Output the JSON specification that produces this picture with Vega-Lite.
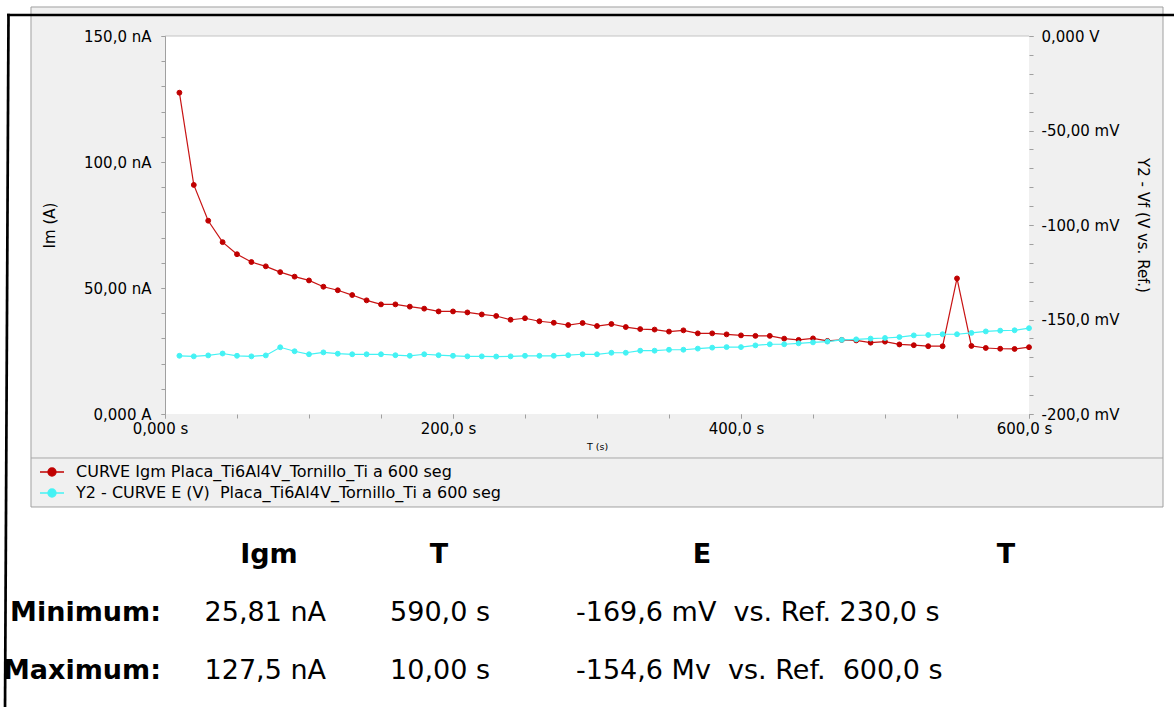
{
  "$schema": "https://vega.github.io/schema/vega-lite/v6.json",
  "width": 864,
  "height": 378,
  "autosize": "none",
  "padding": {"left": 165, "top": 36, "right": 145, "bottom": 293},
  "background": "#f0f0f0",
  "config": {
    "view": {"stroke": null, "fill": null},
    "font": "DejaVu Sans",
    "axis": {
      "zindex": 1,
      "grid": false,
      "labelFont": "DejaVu Sans",
      "titleFont": "DejaVu Sans",
      "labelColor": "#000000",
      "titleColor": "#000000",
      "titleFontWeight": "normal",
      "labelOverlap": false,
      "labelFlush": false,
      "domainColor": "#a0a0a0",
      "tickColor": "#a0a0a0",
      "tickSize": 4,
      "labelFontSize": 15,
      "titleFontSize": 15
    },
    "text": {"font": "DejaVu Sans", "color": "#000000"}
  },
  "datasets": {
    "curve": [
      {"T": 10, "Igm": 127.5, "E": -169.2},
      {"T": 20, "Igm": 90.9, "E": -169.5},
      {"T": 30, "Igm": 76.7, "E": -169.0},
      {"T": 40, "Igm": 68.2, "E": -168.0},
      {"T": 50, "Igm": 63.4, "E": -169.2},
      {"T": 60, "Igm": 60.3, "E": -169.5},
      {"T": 70, "Igm": 58.6, "E": -169.0},
      {"T": 80, "Igm": 56.3, "E": -164.7},
      {"T": 90, "Igm": 54.5, "E": -166.8},
      {"T": 100, "Igm": 53.0, "E": -168.4},
      {"T": 110, "Igm": 50.5, "E": -167.4},
      {"T": 120, "Igm": 49.1, "E": -168.1},
      {"T": 130, "Igm": 47.2, "E": -168.4},
      {"T": 140, "Igm": 45.1, "E": -168.4},
      {"T": 150, "Igm": 43.5, "E": -168.4},
      {"T": 160, "Igm": 43.5, "E": -168.9},
      {"T": 170, "Igm": 42.6, "E": -169.2},
      {"T": 180, "Igm": 41.8, "E": -168.4},
      {"T": 190, "Igm": 40.7, "E": -168.9},
      {"T": 200, "Igm": 40.7, "E": -169.2},
      {"T": 210, "Igm": 40.3, "E": -169.5},
      {"T": 220, "Igm": 39.5, "E": -169.5},
      {"T": 230, "Igm": 38.9, "E": -169.6},
      {"T": 240, "Igm": 37.4, "E": -169.5},
      {"T": 250, "Igm": 38.0, "E": -169.2},
      {"T": 260, "Igm": 36.8, "E": -169.2},
      {"T": 270, "Igm": 36.2, "E": -169.2},
      {"T": 280, "Igm": 35.3, "E": -168.9},
      {"T": 290, "Igm": 36.1, "E": -168.4},
      {"T": 300, "Igm": 34.9, "E": -168.4},
      {"T": 310, "Igm": 35.7, "E": -167.6},
      {"T": 320, "Igm": 34.5, "E": -167.6},
      {"T": 330, "Igm": 33.7, "E": -166.5},
      {"T": 340, "Igm": 33.5, "E": -166.5},
      {"T": 350, "Igm": 32.7, "E": -166.0},
      {"T": 360, "Igm": 33.2, "E": -166.0},
      {"T": 370, "Igm": 32.0, "E": -165.4},
      {"T": 380, "Igm": 32.0, "E": -164.9},
      {"T": 390, "Igm": 31.6, "E": -164.6},
      {"T": 400, "Igm": 31.2, "E": -164.6},
      {"T": 410, "Igm": 31.0, "E": -163.7},
      {"T": 420, "Igm": 31.0, "E": -163.1},
      {"T": 430, "Igm": 29.9, "E": -163.1},
      {"T": 440, "Igm": 29.4, "E": -162.6},
      {"T": 450, "Igm": 30.0, "E": -162.1},
      {"T": 460, "Igm": 29.0, "E": -161.7},
      {"T": 470, "Igm": 29.4, "E": -160.8},
      {"T": 480, "Igm": 29.2, "E": -160.5},
      {"T": 490, "Igm": 28.3, "E": -160.1},
      {"T": 500, "Igm": 28.7, "E": -159.8},
      {"T": 510, "Igm": 27.6, "E": -159.3},
      {"T": 520, "Igm": 27.3, "E": -158.4},
      {"T": 530, "Igm": 26.9, "E": -158.2},
      {"T": 540, "Igm": 26.9, "E": -157.8},
      {"T": 550, "Igm": 53.8, "E": -157.8},
      {"T": 560, "Igm": 27.0, "E": -157.1},
      {"T": 570, "Igm": 26.2, "E": -156.3},
      {"T": 580, "Igm": 25.9, "E": -155.9},
      {"T": 590, "Igm": 25.81, "E": -155.7},
      {"T": 600, "Igm": 26.5, "E": -154.6}
    ],
    "table": [
      {"row": "header", "label": "", "Igm": "Igm", "T": "T", "E": "E", "T2": "T"},
      {"row": "Minimum:", "label": "Minimum:", "Igm": "25,81 nA", "T": "590,0 s", "E": "-169,6 mV\u00a0 vs. Ref. 230,0 s", "T2": ""},
      {"row": "Maximum:", "label": "Maximum:", "Igm": "127,5 nA", "T": "10,00 s", "E": "-154,6 Mv\u00a0 vs. Ref.\u00a0 600,0 s", "T2": ""}
    ]
  },
  "layer": [
    {
      "resolve": {"axis": {"x": "independent", "y": "independent"}},
      "layer": [
        {
          "data": {"values": [{}]},
          "mark": {"type": "rect", "fill": "#ffffff", "strokeWidth": 0},
          "encoding": {
            "x": {"datum": -120, "type": "quantitative", "axis": null},
            "x2": {"datum": 710},
            "y": {"datum": 170, "type": "quantitative", "axis": null},
            "y2": {"datum": 161.51}
          }
        },
        {
          "data": {"values": [{}]},
          "mark": {"type": "rect", "fill": "#ffffff", "strokeWidth": 0},
          "encoding": {
            "x": {"datum": -120, "type": "quantitative", "axis": null},
            "x2": {"datum": -93.06},
            "y": {"datum": 170, "type": "quantitative", "axis": null},
            "y2": {"datum": -36.9}
          }
        },
        {
          "data": {"values": [{}]},
          "mark": {"type": "rect", "fill": "#ffffff", "strokeWidth": 0},
          "encoding": {
            "x": {"datum": 693.06, "type": "quantitative", "axis": null},
            "x2": {"datum": 710},
            "y": {"datum": 170, "type": "quantitative", "axis": null},
            "y2": {"datum": -36.9}
          }
        },
        {
          "data": {"values": [{}]},
          "mark": {"type": "rect", "fill": "#ffffff", "strokeWidth": 0},
          "encoding": {
            "x": {"datum": -120, "type": "quantitative", "axis": null},
            "x2": {"datum": 710},
            "y": {"datum": -36.9, "type": "quantitative", "axis": null},
            "y2": {"datum": -125}
          }
        },
        {
          "data": {"values": [{}]},
          "mark": {"type": "rect", "fill": "#ffffff", "strokeWidth": 0},
          "encoding": {
            "x": {"datum": 0.3, "type": "quantitative", "axis": null},
            "x2": {"datum": 600},
            "y": {"datum": 150, "type": "quantitative", "axis": null},
            "y2": {"datum": 0}
          }
        },
        {
          "data": {"values": [{}]},
          "mark": {"type": "rect", "fill": null, "fillOpacity": 0, "stroke": "#a0a0a0", "strokeWidth": 1},
          "encoding": {
            "x": {"datum": -93.06, "type": "quantitative", "axis": null},
            "x2": {"datum": 693.06},
            "y": {"datum": 161.51, "type": "quantitative", "axis": null},
            "y2": {"datum": -36.9}
          }
        },
        {
          "data": {"values": [{}]},
          "mark": {"type": "rule", "stroke": "#c4c4c4", "strokeWidth": 1},
          "encoding": {
            "x": {"datum": 0, "type": "quantitative", "axis": null},
            "x2": {"datum": 600},
            "y": {"datum": 150, "type": "quantitative", "axis": null}
          }
        },
        {
          "data": {"values": [{}]},
          "mark": {"type": "rule", "stroke": "#a8a8a8", "strokeWidth": 1},
          "encoding": {
            "x": {"datum": -93.06, "type": "quantitative", "axis": null},
            "x2": {"datum": 693.06},
            "y": {"datum": -17.46, "type": "quantitative", "axis": null}
          }
        },
        {
          "data": {"values": [{}]},
          "mark": {"type": "rule", "stroke": "#000000", "strokeWidth": 2.7},
          "encoding": {
            "x": {"datum": -109.72, "type": "quantitative", "axis": null},
            "x2": {"datum": 704.9},
            "y": {"datum": 158.33, "type": "quantitative", "axis": null}
          }
        },
        {
          "data": {"values": [{}]},
          "mark": {"type": "rule", "stroke": "#000000", "strokeWidth": 2.7},
          "encoding": {
            "x": {"datum": -108.68, "type": "quantitative", "axis": null},
            "x2": {"datum": -111.1},
            "y": {"datum": 158.85, "type": "quantitative", "axis": null},
            "y2": {"datum": -117.46}
          }
        },
        {
          "data": {"name": "curve"},
          "mark": {"type": "line", "stroke": "#c81414", "strokeWidth": 1.2},
          "encoding": {
            "x": {
              "field": "T", "type": "quantitative",
              "scale": {"domain": [0, 600], "nice": false, "zero": false},
              "axis": {
                "orient": "bottom",
                "zindex": 2,
                "values": [0, 200, 400, 600],
                "tickCount": 4,
                "labelExpr": "datum.value==0?'0,000 s':datum.value==200?'200,0 s':datum.value==400?'400,0 s':'600,0 s'",
                "labelOverlap": false,
                "domain": false,
                "labelPadding": 3,
                "labelOffset": -5,
                "title": "T (s)",
                "titleFontSize": 9.5,
                "titlePadding": 5
              }
            },
            "y": {
              "field": "Igm", "type": "quantitative",
              "scale": {"domain": [0, 150], "nice": false, "zero": false},
              "axis": {
                "orient": "left",
                "zindex": 2,
                "values": [0, 50, 100, 150],
                "tickCount": 4,
                "labelExpr": "datum.value==0?'0,000 A':datum.value==50?'50,00 nA':datum.value==100?'100,0 nA':'150,0 nA'",
                "labelOverlap": false,
                "domain": true,
                "labelPadding": 10,
                "title": "Im (A)",
                "titlePadding": 26
              }
            }
          }
        },
        {
          "data": {"name": "curve"},
          "mark": {"type": "point", "shape": "circle", "filled": true, "size": 24, "strokeWidth": 1, "opacity": 1},
          "encoding": {
            "x": {
              "field": "T", "type": "quantitative", "scale": {"domain": [0, 600]},
              "axis": {
                "orient": "bottom", "zindex": 2,
                "values": [0, 50, 100, 150, 200, 250, 300, 350, 400, 450, 500, 550, 600],
                "tickCount": 13, "labels": false, "domain": false, "title": null
              }
            },
            "y": {
              "field": "Igm", "type": "quantitative", "scale": {"domain": [0, 150]},
              "axis": {
                "orient": "left", "zindex": 2,
                "values": [0, 10, 20, 30, 40, 50, 60, 70, 80, 90, 100, 110, 120, 130, 140, 150],
                "tickCount": 16, "labels": false, "domain": false, "title": null
              }
            },
            "fill": {
              "datum": "CURVE Igm Placa_Ti6Al4V_Tornillo_Ti a 600 seg",
              "scale": {
                "domain": ["CURVE Igm Placa_Ti6Al4V_Tornillo_Ti a 600 seg", "Y2 - CURVE E (V)\u00a0 Placa_Ti6Al4V_Tornillo_Ti a 600 seg"],
                "range": ["#c00000", "#44f2f4"]
              },
              "legend": {
                "orient": "none", "legendX": -122, "legendY": 427, "title": null,
                "symbolType": "M-1.5,0L1.5,0M-0.5,0A0.5,0.5,0,1,1,0.5,0A0.5,0.5,0,1,1,-0.5,0Z",
                "symbolSize": 256, "symbolStrokeWidth": 1.3,
                "labelFont": "DejaVu Sans", "labelFontSize": 16, "labelColor": "#000000",
                "labelLimit": 0, "padding": 0, "rowPadding": 4, "labelOffset": 15
              }
            },
            "stroke": {
              "datum": "CURVE Igm Placa_Ti6Al4V_Tornillo_Ti a 600 seg",
              "scale": {
                "domain": ["CURVE Igm Placa_Ti6Al4V_Tornillo_Ti a 600 seg", "Y2 - CURVE E (V)\u00a0 Placa_Ti6Al4V_Tornillo_Ti a 600 seg"],
                "range": ["#c00000", "#44f2f4"]
              },
              "legend": {
                "orient": "none", "legendX": -122, "legendY": 427, "title": null,
                "symbolType": "M-1.5,0L1.5,0M-0.5,0A0.5,0.5,0,1,1,0.5,0A0.5,0.5,0,1,1,-0.5,0Z",
                "symbolSize": 256, "symbolStrokeWidth": 1.3,
                "labelFont": "DejaVu Sans", "labelFontSize": 16, "labelColor": "#000000",
                "labelLimit": 0, "padding": 0, "rowPadding": 4, "labelOffset": 15
              }
            }
          }
        }
      ]
    },
    {
      "data": {"name": "curve"},
      "resolve": {"axis": {"y": "independent"}},
      "layer": [
        {
          "mark": {"type": "line", "stroke": "#44f2f4", "strokeWidth": 1.2},
          "encoding": {
            "x": {"field": "T", "type": "quantitative", "scale": {"domain": [0, 600]}, "axis": null},
            "y": {
              "field": "E", "type": "quantitative",
              "scale": {"domain": [-200, 0], "nice": false, "zero": false},
              "axis": {
                "orient": "right",
                "zindex": 2,
                "values": [-200, -150, -100, -50, 0],
                "tickCount": 5,
                "labelExpr": "datum.value==0?'\u20070,000 V':datum.value==-50?'-50,00 mV':datum.value==-100?'-100,0 mV':datum.value==-150?'-150,0 mV':'-200,0 mV'",
                "labelOverlap": false,
                "domain": false,
                "labelPadding": 8,
                "title": "Y2 - Vf (V vs. Ref.)",
                "titlePadding": 16
              }
            }
          }
        },
        {
          "mark": {"type": "point", "shape": "circle", "filled": true, "size": 24, "strokeWidth": 1, "opacity": 1},
          "encoding": {
            "x": {"field": "T", "type": "quantitative", "scale": {"domain": [0, 600]}, "axis": null},
            "y": {
              "field": "E", "type": "quantitative", "scale": {"domain": [-200, 0]},
              "axis": {
                "orient": "right", "zindex": 2,
                "values": [-200, -190, -180, -170, -160, -150, -140, -130, -120, -110, -100, -90, -80, -70, -60, -50, -40, -30, -20, -10, 0],
                "tickCount": 21, "labels": false, "domain": false, "title": null
              }
            },
            "fill": {"datum": "Y2 - CURVE E (V)\u00a0 Placa_Ti6Al4V_Tornillo_Ti a 600 seg"},
            "stroke": {"datum": "Y2 - CURVE E (V)\u00a0 Placa_Ti6Al4V_Tornillo_Ti a 600 seg"}
          }
        }
      ]
    },
    {
      "data": {"name": "table"},
      "encoding": {
        "y": {
          "field": "row", "type": "nominal",
          "scale": {"type": "point", "domain": ["header", "Minimum:", "Maximum:"], "range": [519, 635], "padding": 0},
          "axis": null
        }
      },
      "layer": [
        {
          "transform": [{"filter": "datum.row == 'header'"}],
          "mark": {"type": "text", "align": "center", "baseline": "middle", "fontSize": 27, "fontWeight": "bold"},
          "encoding": {"text": {"field": "Igm"}, "x": {"datum": 72.2, "type": "quantitative", "axis": null}}
        },
        {
          "transform": [{"filter": "datum.row == 'header'"}],
          "mark": {"type": "text", "align": "center", "baseline": "middle", "fontSize": 27, "fontWeight": "bold"},
          "encoding": {"text": {"field": "T"}, "x": {"datum": 190.3, "type": "quantitative", "axis": null}}
        },
        {
          "transform": [{"filter": "datum.row == 'header'"}],
          "mark": {"type": "text", "align": "center", "baseline": "middle", "fontSize": 27, "fontWeight": "bold"},
          "encoding": {"text": {"field": "E"}, "x": {"datum": 372.9, "type": "quantitative", "axis": null}}
        },
        {
          "transform": [{"filter": "datum.row == 'header'"}],
          "mark": {"type": "text", "align": "center", "baseline": "middle", "fontSize": 27, "fontWeight": "bold"},
          "encoding": {"text": {"field": "T2"}, "x": {"datum": 584.0, "type": "quantitative", "axis": null}}
        },
        {
          "transform": [{"filter": "datum.row != 'header'"}],
          "mark": {"type": "text", "align": "right", "baseline": "middle", "fontSize": 27, "fontWeight": "bold"},
          "encoding": {"text": {"field": "label"}, "x": {"datum": -2.78, "type": "quantitative", "axis": null}}
        },
        {
          "transform": [{"filter": "datum.row != 'header'"}],
          "mark": {"type": "text", "align": "right", "baseline": "middle", "fontSize": 27},
          "encoding": {"text": {"field": "Igm"}, "x": {"datum": 111.8, "type": "quantitative", "axis": null}}
        },
        {
          "transform": [{"filter": "datum.row != 'header'"}],
          "mark": {"type": "text", "align": "right", "baseline": "middle", "fontSize": 27},
          "encoding": {"text": {"field": "T"}, "x": {"datum": 225.7, "type": "quantitative", "axis": null}}
        },
        {
          "transform": [{"filter": "datum.row != 'header'"}],
          "mark": {"type": "text", "align": "left", "baseline": "middle", "fontSize": 27},
          "encoding": {"text": {"field": "E"}, "x": {"datum": 285.4, "type": "quantitative", "axis": null}}
        }
      ]
    }
  ],
  "resolve": {"scale": {"y": "independent"}}
}
